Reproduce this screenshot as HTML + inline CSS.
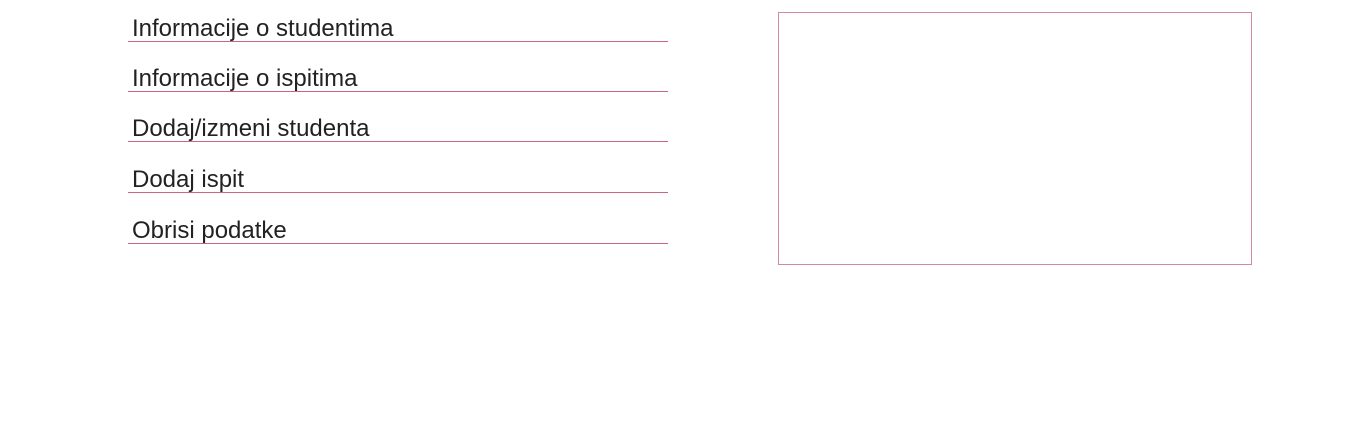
<!DOCTYPE html>
<html><head><meta charset="utf-8"><style>
body{margin:0;width:1365px;height:443px;background:#fff;position:relative;font-family:"Liberation Sans",sans-serif;overflow:hidden}
.item{position:absolute;left:128px;width:540px;height:31px;border-bottom:1px solid #c8687f;color:#222;font-size:24px;line-height:36px;padding-left:4px;box-sizing:border-box;cursor:pointer;letter-spacing:0;overflow:visible;white-space:nowrap}
.box{position:absolute;left:778px;top:12px;width:474px;height:253px;border:1px solid #d08a9a;box-sizing:border-box}
</style></head><body>
<div class="item" style="top:11px">Informacije o studentima</div>
<div class="item" style="top:61px">Informacije o ispitima</div>
<div class="item" style="top:111px">Dodaj/izmeni studenta</div>
<div class="item" style="top:162px">Dodaj ispit</div>
<div class="item" style="top:213px">Obrisi podatke</div>
<div class="box"></div>
</body></html>
